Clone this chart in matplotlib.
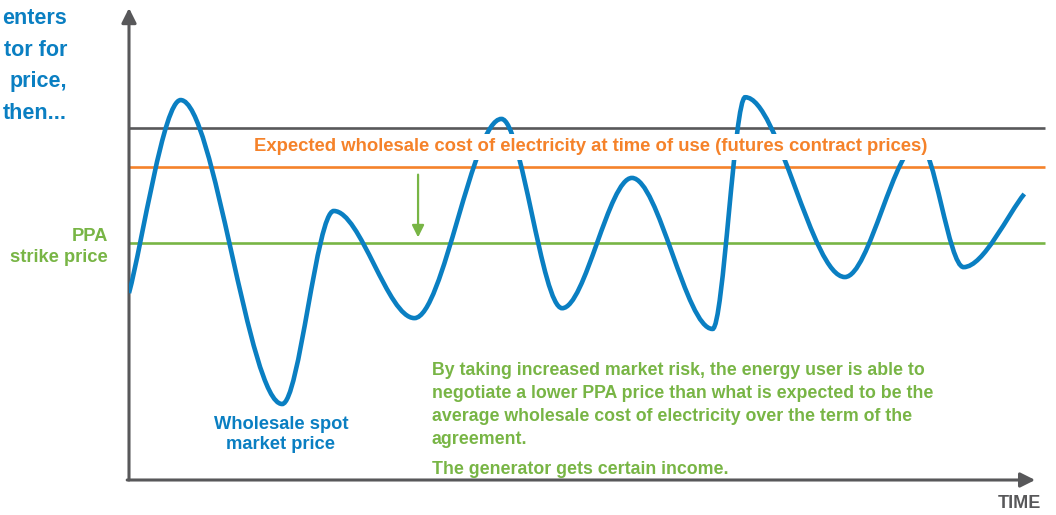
import matplotlib.pyplot as plt
from matplotlib.path import Path
from matplotlib.patches import PathPatch

plt.rcParams['font.family'] = ['Liberation Sans', 'DejaVu Sans']

# turning points of the wholesale spot price (time 0-100, price 0-100)
time_pts = [0, 5.7, 16.9, 22.6, 31.5, 41.1, 47.8, 55.5, 64.4, 68.0, 79.0, 87.2, 92.1, 98.8]
spot_price = [39.6, 80.5, 16.1, 57.0, 34.3, 76.5, 36.4, 64.0, 32.0, 81.1, 43.0, 71.4, 45.1, 60.6]

upper_price = 74.6     # dark grey line
futures_price = 66.3   # expected wholesale cost
strike_price = 50.2    # PPA strike price
line_end = 101.1

BLUE = '#0a7fc2'
ORANGE = '#f5822a'
GREEN = '#78b545'
GREY = '#58585a'


def smooth_path(xs, ys, k=0.33):
    verts = [(xs[0], ys[0])]
    codes = [Path.MOVETO]
    n = len(xs)
    for i in range(n - 1):
        dx = xs[i + 1] - xs[i]
        if i == 0:
            c1 = (xs[i] + k * dx * 0.8, ys[i] + k * (ys[i + 1] - ys[i]) * 0.8)
        else:
            c1 = (xs[i] + k * dx, ys[i])
        if i + 1 == n - 1:
            c2 = (xs[i + 1] - k * dx * 0.8, ys[i + 1] - k * (ys[i + 1] - ys[i]) * 0.8)
        else:
            c2 = (xs[i + 1] - k * dx, ys[i + 1])
        verts += [c1, c2, (xs[i + 1], ys[i + 1])]
        codes += [Path.CURVE4] * 3
    return Path(verts, codes)


def main():
	fig = plt.figure(figsize=(10.56, 5.15), dpi=100)
	ax = fig.add_axes([129 / 1056, 35 / 515, 927 / 1056, 480 / 515])
	ax.set_xlim(0, 102.3)
	ax.set_ylim(0, 101.7)
	ax.axis('off')

	# axes with arrow heads
	ax.annotate('', xy=(0, 100), xytext=(0, 0),
		arrowprops=dict(arrowstyle='-|>', color=GREY, lw=2.2, mutation_scale=22, shrinkA=0, shrinkB=0))
	ax.annotate('', xy=(100, 0), xytext=(-0.2, 0),
		arrowprops=dict(arrowstyle='-|>', color=GREY, lw=2.2, mutation_scale=22, shrinkA=0, shrinkB=0))

	ax.hlines(upper_price, 0, line_end, color=GREY, lw=1.9, zorder=2, clip_on=False)
	ax.hlines(futures_price, 0, line_end, color=ORANGE, lw=1.9, zorder=2, clip_on=False)
	ax.hlines(strike_price, 0, line_end, color=GREEN, lw=1.9, zorder=2, clip_on=False)

	spot = PathPatch(smooth_path(time_pts, spot_price), fc='none', ec=BLUE, lw=3.3,
		zorder=3, capstyle='butt', transform=ax.transData)
	ax.add_patch(spot)

	# arrow from futures price down to strike price
	ax.annotate('', xy=(31.9, strike_price + 1.2), xytext=(31.9, futures_price - 1.6),
		arrowprops=dict(arrowstyle='-|>', color=GREEN, lw=1.6, mutation_scale=18, shrinkA=0, shrinkB=0))

	ax.text(50.9, 70.6, 'Expected wholesale cost of electricity at time of use (futures contract prices)',
		color=ORANGE, fontsize=13.3, fontweight='bold', ha='center', va='center', zorder=5,
		bbox=dict(boxstyle='square,pad=0.25', fc='white', ec='none'))

	fig.text(108 / 1056, 1 - 247 / 515, 'PPA\nstrike price', color=GREEN, fontsize=13.2,
		fontweight='bold', ha='right', va='center', linespacing=1.3)

	fig.text(281 / 1056, 1 - 434.5 / 515, 'Wholesale spot\nmarket price', color=BLUE, fontsize=13.2,
		fontweight='bold', ha='center', va='center', linespacing=1.3)

	fig.text(432 / 1056, 1 - 405 / 515,
		'By taking increased market risk, the energy user is able to\n'
		'negotiate a lower PPA price than what is expected to be the\n'
		'average wholesale cost of electricity over the term of the\n'
		'agreement.',
		color=GREEN, fontsize=12.8, fontweight='bold', ha='left', va='center', linespacing=1.45)
	fig.text(432 / 1056, 1 - 469.5 / 515, 'The generator gets certain income.', color=GREEN,
		fontsize=12.8, fontweight='bold', ha='left', va='center')

	fig.text(1019 / 1056, 1 - 504 / 515, 'TIME', color=GREY, fontsize=13,
		fontweight='bold', ha='center', va='center')

	fig.text(67 / 1056, 1 - 66 / 515, 'enters\ntor for\nprice,\nthen...', color=BLUE,
		fontsize=15.5, fontweight='bold', ha='right', va='center', linespacing=1.66)

	fig.savefig('out.png', dpi=100)


if __name__ == '__main__':
	main()
